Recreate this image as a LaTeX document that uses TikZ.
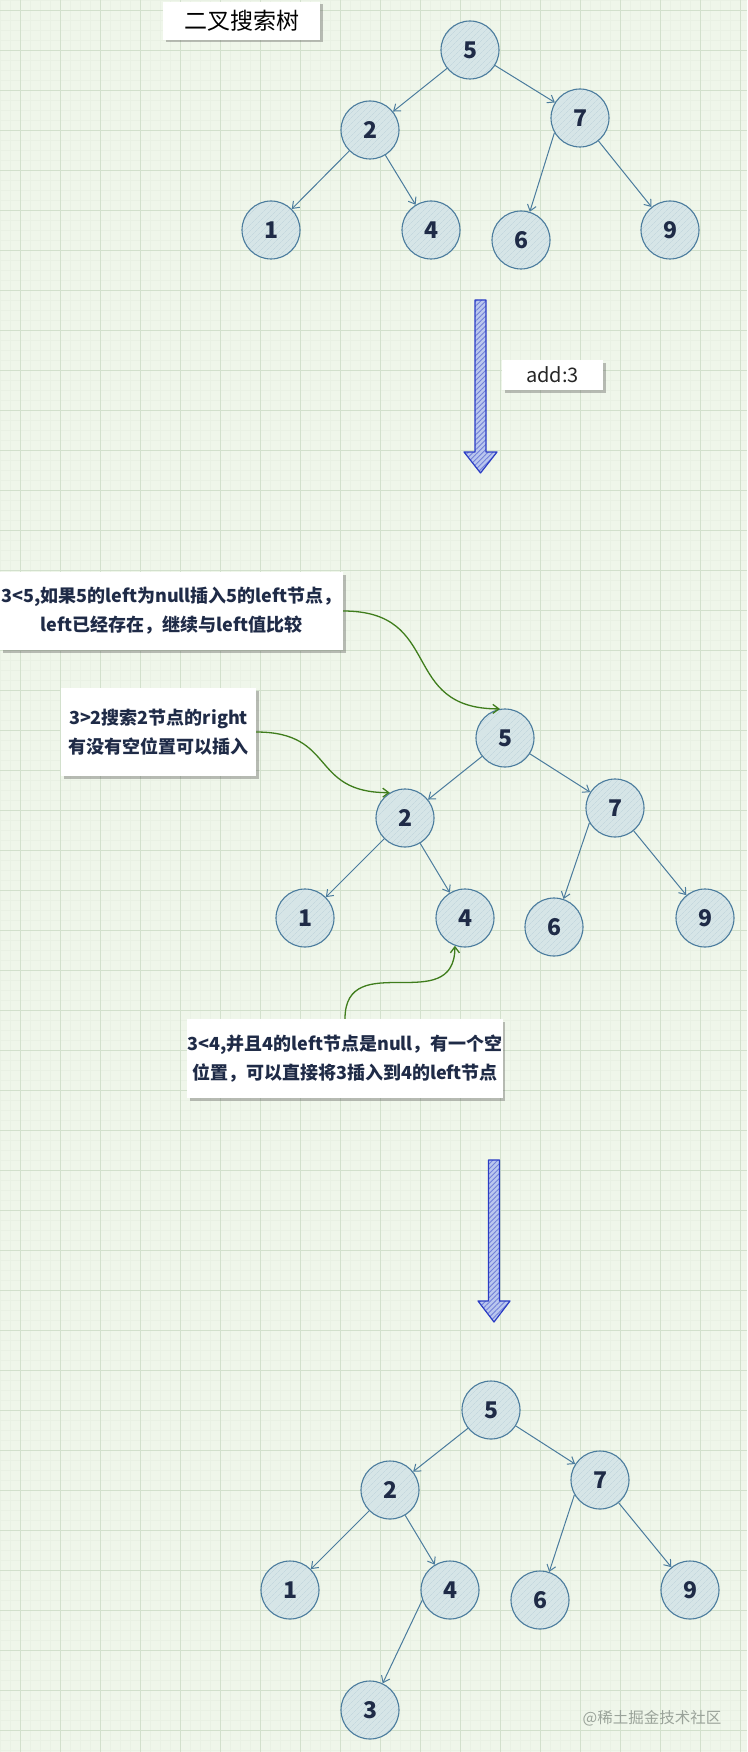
\documentclass[tikz,border=0pt]{standalone}
\usepackage{fontspec}
\setmainfont{Noto Sans CJK SC}
\usetikzlibrary{arrows.meta, shadows, patterns.meta}

\definecolor{bgcol}{HTML}{EFF6EA}
\definecolor{gridcol}{HTML}{D2E0CC}
\definecolor{minorcol}{HTML}{E9F1E4}
\definecolor{nodefill}{HTML}{D6E5E7}
\definecolor{nodeline}{HTML}{4A7B9D}
\definecolor{textcol}{HTML}{1F2B47}
\definecolor{arrowblue}{HTML}{2A3CC4}
\definecolor{arrowfill}{HTML}{BAC7EE}
\definecolor{curvegreen}{HTML}{3F7D1C}
\definecolor{markgray}{HTML}{9AA39A}

\begin{document}
\begin{tikzpicture}[x=1pt, y=1pt,
	num/.style={circle, draw=nodeline, line width=1.1pt, minimum size=58pt, inner sep=0pt,
		preaction={fill=nodefill}, pattern={Lines[angle=45, distance=4pt, line width=0.4pt]},
		pattern color=nodeline!18!nodefill, text=textcol, font=\fontsize{23}{23}\selectfont\bfseries},
	tline/.style={draw=nodeline, line width=1pt, -{Straight Barb[length=6pt, width=9pt]}},
	gline/.style={draw=curvegreen, line width=1.3pt, -{Straight Barb[length=6pt, width=9pt]}, looseness=1.4},
	notebox/.style={fill=white, inner sep=0pt, align=center, text=textcol,
		drop shadow={shadow xshift=2.5pt, shadow yshift=-2.5pt, opacity=0.35, fill=black!70},
		font=\fontsize{18}{29}\selectfont\bfseries},
	bigarrow/.style={draw=arrowblue, line width=1.2pt, line join=round, preaction={fill=arrowfill},
		pattern={Lines[angle=45, distance=3.5pt, line width=0.9pt]}, pattern color=arrowblue!50!arrowfill}]
	\useasboundingbox (0,0) rectangle (747,-1752);
	% Background and grid:
	\fill[bgcol] (0,0) rectangle (747,-1752);
	\foreach \gx in {0,10,...,740} \draw[minorcol, line width=0.4pt] (\gx,0) -- (\gx,-1752);
	\foreach \gy in {0,10,...,1750} \draw[minorcol, line width=0.4pt] (0,-\gy) -- (747,-\gy);
	\foreach \gx in {20,60,...,740} \draw[gridcol, line width=0.8pt] (\gx,0) -- (\gx,-1752);
	\foreach \gy in {10,50,...,1750} \draw[gridcol, line width=0.8pt] (0,-\gy) -- (747,-\gy);

	% Title and first tree:
	\node[notebox, minimum width=157pt, minimum height=38pt, text=black,
		font=\fontsize{23}{23}\selectfont] (title) at (241.5,-21) {二叉搜索树};
	\node[num] (t5) at (470,-50) {5};
	\node[num] (t2) at (370,-130) {2};
	\node[num] (t7) at (580,-118) {7};
	\node[num] (t1) at (271,-230) {1};
	\node[num] (t4) at (431,-230) {4};
	\node[num] (t6) at (521,-240) {6};
	\node[num] (t9) at (670,-230) {9};
	\draw[tline] (t5) -- (t2);
	\draw[tline] (t5) -- (t7);
	\draw[tline] (t2) -- (t1);
	\draw[tline] (t2) -- (t4);
	\draw[tline] (t7.210) -- (t6);
	\draw[tline] (t7) -- (t9);

	% First step arrow:
	\filldraw[bigarrow] (475,-300) -- (486,-300) -- (486,-452) -- (497,-452) -- (480.5,-473)
		-- (464,-452) -- (475,-452) -- cycle;
	\node[notebox, minimum width=101pt, minimum height=30pt, text=black!85,
		font=\fontsize{20}{20}\selectfont] (addlbl) at (552.5,-375) {add:3};

	% Second tree with notes:
	\node[notebox, minimum width=343pt, minimum height=78pt] (note1) at (171.5,-611)
		{3<5,如果5的left为null插入5的left节点，\\left已经存在，继续与left值比较};
	\node[notebox, minimum width=195pt, minimum height=88pt] (note2) at (158.5,-732)
		{3>2搜索2节点的right\\有没有空位置可以插入};
	\node[notebox, minimum width=314pt, minimum height=79pt] (note3) at (345,-1058.5)
		{3<4,并且4的left节点是null，有一个空\\位置，可以直接将3插入到4的left节点};
	\node[num] (m5) at (505,-738) {5};
	\node[num] (m2) at (405,-818) {2};
	\node[num] (m7) at (615,-808) {7};
	\node[num] (m1) at (305,-918) {1};
	\node[num] (m4) at (465,-918) {4};
	\node[num] (m6) at (554,-927) {6};
	\node[num] (m9) at (705,-918) {9};
	\draw[tline] (m5) -- (m2);
	\draw[tline] (m5) -- (m7);
	\draw[tline] (m2) -- (m1);
	\draw[tline] (m2) -- (m4);
	\draw[tline] (m7.210) -- (m6);
	\draw[tline] (m7) -- (m9);
	\draw[gline] (note1.east) to[out=0, in=180] (m5.100);
	\draw[gline] (note2.east) to[out=0, in=180] (m2.121);
	\draw[gline] (note3.north) to[out=90, in=-90] (m4.250);

	% Second step arrow:
	\filldraw[bigarrow] (488.5,-1160) -- (499.5,-1160) -- (499.5,-1301) -- (510,-1301) -- (494,-1322)
		-- (478,-1301) -- (488.5,-1301) -- cycle;

	% Result tree:
	\node[num] (b5) at (491,-1410) {5};
	\node[num] (b2) at (390,-1490) {2};
	\node[num] (b7) at (600,-1480) {7};
	\node[num] (b1) at (290,-1590) {1};
	\node[num] (b4) at (450,-1590) {4};
	\node[num] (b6) at (540,-1600) {6};
	\node[num] (b9) at (690,-1590) {9};
	\node[num] (b3) at (370,-1710) {3};
	\draw[tline] (b5) -- (b2);
	\draw[tline] (b5) -- (b7);
	\draw[tline] (b2) -- (b1);
	\draw[tline] (b2) -- (b4);
	\draw[tline] (b7.210) -- (b6);
	\draw[tline] (b7) -- (b9);
	\draw[tline] (b4.200) -- (b3);
	\node[text=markgray, font=\fontsize{15.5}{15.5}\selectfont] (mark) at (652,-1718) {@稀土掘金技术社区};
\end{tikzpicture}
\end{document}
